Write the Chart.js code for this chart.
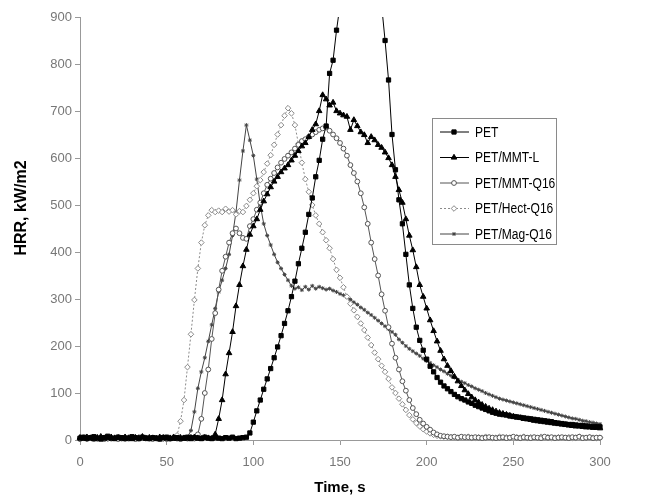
<!DOCTYPE html>
<html>
<head>
<meta charset="utf-8">
<title>HRR curves</title>
<script src="https://cdn.jsdelivr.net/npm/chart.js@4.4.1/dist/chart.umd.min.js"></script>
<style>
  html, body { margin: 0; padding: 0; background: #fff; }
  #wrap { width: 646px; height: 495px; }
</style>
</head>
<body>
<div id="wrap"><canvas id="hrrChart" width="646" height="495"></canvas></div>
<script>
// time axis (s), one reading every 2 s
var timeS = [
  0, 2, 4, 6, 8, 10, 12, 14, 16, 18,
  20, 22, 24, 26, 28, 30, 32, 34, 36, 38,
  40, 42, 44, 46, 48, 50, 52, 54, 56, 58,
  60, 62, 64, 66, 68, 70, 72, 74, 76, 78,
  80, 82, 84, 86, 88, 90, 92, 94, 96, 98,
  100, 102, 104, 106, 108, 110, 112, 114, 116, 118,
  120, 122, 124, 126, 128, 130, 132, 134, 136, 138,
  140, 142, 144, 146, 148, 150, 152, 154, 156, 158,
  160, 162, 164, 166, 168, 170, 172, 174, 176, 178,
  180, 182, 184, 186, 188, 190, 192, 194, 196, 198,
  200, 202, 204, 206, 208, 210, 212, 214, 216, 218,
  220, 222, 224, 226, 228, 230, 232, 234, 236, 238,
  240, 242, 244, 246, 248, 250, 252, 254, 256, 258,
  260, 262, 264, 266, 268, 270, 272, 274, 276, 278,
  280, 282, 284, 286, 288, 290, 292, 294, 296, 298,
  300
];

var seriesNames = ['PET', 'PET/MMT-L', 'PET/MMT-Q16', 'PET/Hect-Q16', 'PET/Mag-Q16'];

// HRR, kW/m2
var hrrPET = [
  4, 6, 3, 5, 7, 4, 2, 5, 8, 4,
  3, 6, 5, 3, 4, 7, 5, 3, 6, 4,
  3, 5, 4, 2, 5, 6, 3, 4, 5, 3,
  4, 6, 3, 5, 4, 3, 6, 4, 3, 5,
  4, 3, 5, 4, 6, 3, 4, 5, 6, 15,
  38, 62, 85, 108, 130, 152, 175, 198, 222, 248,
  275, 305, 338, 375, 408, 442, 480, 515, 560, 595,
  640, 668, 780, 808, 872, 925, 980, 1030, 1070, 1100,
  1115, 1120, 1110, 1090, 1050, 1010, 970, 925, 850, 766,
  650, 575, 511, 460, 395, 330, 280, 240, 212, 191,
  172, 157, 145, 133, 123, 115, 109, 103, 97, 92,
  88, 85, 81, 78, 74, 71, 68, 65, 62, 59,
  57, 55, 54, 53, 51, 50, 49, 48, 47, 46,
  45, 44, 43, 42, 41, 40, 39, 37, 36, 35,
  34, 33, 33, 32, 31, 31, 30, 29, 29, 28,
  28
];

var hrrMMTL = [
  5, 3, 6, 4, 2, 5, 7, 3, 4, 6,
  4, 5, 3, 6, 4, 2, 5, 4, 7, 3,
  5, 4, 3, 6, 5, 3, 4, 6, 3, 5,
  4, 3, 5, 6, 4, 3, 5, 4, 3, 12,
  45, 85, 140, 185, 230, 285, 330, 370, 405, 437,
  455, 470, 490, 508, 523, 538, 550, 560, 570, 578,
  585, 595, 605, 615, 625, 632, 645, 660, 672, 700,
  734, 725, 712, 718, 700, 695, 691, 688, 660, 681,
  668, 655, 649, 632, 645, 638, 628, 622, 612, 600,
  585, 560, 532, 505, 470, 435, 404, 368, 330, 305,
  280, 255, 232, 210, 190, 172, 158, 147, 135, 125,
  115, 106, 98, 91, 85, 80, 75, 71, 67, 64,
  61, 58, 56, 54, 52, 50, 48, 47, 45, 44,
  43, 41, 40, 39, 38, 37, 36, 35, 34, 33,
  32, 31, 30, 29, 29, 28, 27, 27, 26, 26,
  25
];

var hrrMMTQ16 = [
  2, 4, 3, 5, 2, 3, 4, 2, 5, 3,
  4, 2, 3, 5, 3, 4, 2, 3, 4, 5,
  3, 2, 4, 3, 5, 2, 3, 4, 3, 2,
  4, 3, 5, 3, 12, 45, 100, 150, 215, 270,
  320, 360, 390, 420, 440, 450, 440, 430, 428, 455,
  470, 490, 505, 525, 543, 556, 568, 580, 590, 598,
  605, 612, 620, 628, 636, 640, 645, 650, 655, 660,
  663, 665, 658, 650, 642, 632, 620, 605, 585, 568,
  550, 525, 495, 460, 420, 385, 350, 310, 275, 240,
  205, 175, 150, 125, 105, 85, 68, 55, 43, 35,
  28, 22, 16, 12, 9, 8, 7, 6, 7, 5,
  7, 6, 6, 5, 6, 5, 4, 5, 6, 5,
  4, 5, 6, 4, 5, 7, 5, 4, 6, 5,
  4, 6, 5, 4, 7, 5, 6, 4, 5, 6,
  5, 4, 6, 5, 7, 4, 5, 6, 4, 5,
  5
];

var hrrHectQ16 = [
  3, 5, 2, 4, 6, 3, 4, 5, 2, 4,
  5, 3, 4, 2, 5, 4, 3, 6, 4, 3,
  4, 5, 3, 4, 2, 5, 3, 4, 10, 40,
  85, 155, 225, 298, 365, 420, 457, 478, 489, 485,
  488, 485, 492, 486, 489, 480, 487, 485, 498, 511,
  525, 540, 553, 570, 588, 606, 628, 650, 670, 690,
  706, 695, 670, 630, 590, 555, 528, 500, 478, 460,
  442, 425, 408, 385, 362, 345, 325, 305, 290, 276,
  262, 248, 234, 218, 202, 186, 172, 158, 145, 130,
  112, 100, 88, 76, 64, 53, 44, 36, 29, 23,
  18, 14, 11, 9, 8, 7, 7, 6, 6, 5,
  6, 5, 7, 5, 4, 6, 5, 7, 5, 4,
  5, 7, 4, 6, 5, 4, 6, 5, 7, 4,
  6, 5, 4, 7, 5, 6, 4, 5, 6, 4,
  5, 6, 4, 5, 7, 5, 4, 6, 5, 4,
  5
];

var hrrMagQ16 = [
  4, 2, 5, 3, 4, 6, 3, 2, 4, 5,
  3, 4, 6, 3, 5, 2, 4, 3, 5, 4,
  2, 4, 5, 3, 4, 6, 3, 5, 4, 3,
  4, 6, 20, 60, 110, 145, 175, 210, 245, 280,
  315, 340, 365, 395, 435, 485, 553, 615, 670, 638,
  605, 555, 500, 460, 435, 415, 395, 378, 365, 352,
  340, 328, 322, 325, 319, 326, 320, 328, 322, 326,
  323, 320, 322, 318, 315, 311, 308, 304, 299, 293,
  288, 282, 277, 271, 266, 260, 254, 248, 242, 236,
  230, 224, 214, 207, 200, 194, 189, 184, 179, 173,
  168, 164, 159, 155, 150, 146, 141, 137, 133, 128,
  124, 121, 117, 114, 110, 107, 104, 100, 97, 94,
  91, 88, 86, 84, 82, 80, 78, 76, 74, 72,
  70, 68, 66, 64, 62, 60, 58, 56, 54, 52,
  50, 48, 46, 45, 43, 41, 40, 38, 37, 35,
  34
];

var xTicks = [0, 50, 100, 150, 200, 250, 300];
var yTicks = [0, 100, 200, 300, 400, 500, 600, 700, 800, 900];

function pts(vals) {
  return timeS.map(function (t, i) { return { x: t, y: vals[i] }; });
}

var FONT = '"Liberation Sans", Arial, Helvetica, sans-serif';
Chart.defaults.font.family = FONT;

// legend box inside the plot + rotated y title
var extras = {
  id: 'extras',
  afterDraw: function (chart) {
    var ctx = chart.ctx;
    var left = 432, top = 118, w = 124, h = 126;
    ctx.save();
    ctx.fillStyle = '#fff';
    ctx.fillRect(left, top, w, h);
    ctx.strokeStyle = '#8a8a8a';
    ctx.lineWidth = 1;
    ctx.strokeRect(left + 0.5, top + 0.5, w, h);
    chart.data.datasets.forEach(function (ds, i) {
      var y = top + 14 + i * 25.5;
      ctx.strokeStyle = ds.borderColor;
      ctx.lineWidth = 1;
      ctx.setLineDash(ds.borderDash || []);
      ctx.beginPath();
      ctx.moveTo(left + 8, y);
      ctx.lineTo(left + 37, y);
      ctx.stroke();
      ctx.setLineDash([]);
      ctx.fillStyle = ds.pointBackgroundColor;
      ctx.strokeStyle = ds.pointBorderColor;
      Chart.helpers.drawPoint(ctx, {
        pointStyle: ds.pointStyle, radius: ds.pointRadius,
        borderWidth: 1, rotation: 0
      }, left + 22, y);
      // legend text is a bit narrow in the original
      ctx.save();
      ctx.translate(left + 43, y + 1);
      ctx.scale(0.86, 1);
      ctx.fillStyle = '#000';
      ctx.font = '14px ' + FONT;
      ctx.textBaseline = 'middle';
      ctx.textAlign = 'left';
      ctx.fillText(ds.label, 0, 0);
      ctx.restore();
    });
    // y axis title
    ctx.translate(22, 208);
    ctx.rotate(-Math.PI / 2);
    ctx.fillStyle = '#000';
    ctx.font = 'bold 16px ' + FONT;
    ctx.textAlign = 'center';
    ctx.textBaseline = 'middle';
    ctx.fillText('HRR, kW/m2', 0, 0);
    ctx.restore();
  }
};

var styles = [
  { data: hrrPET, color: '#000', style: 'rect', r: 3, fill: '#000', dash: [] },
  { data: hrrMMTL, color: '#000', style: 'triangle', r: 3.2, fill: '#000', dash: [] },
  { data: hrrMMTQ16, color: '#555', style: 'circle', r: 2.4, fill: '#fff', dash: [] },
  { data: hrrHectQ16, color: '#8a8a8a', style: 'rectRot', r: 2.8, fill: '#fff', dash: [2, 2] },
  { data: hrrMagQ16, color: '#444', style: 'star', r: 2, fill: '#444', dash: [] }
];

var ctx = document.getElementById('hrrChart').getContext('2d');
var chart = new Chart(ctx, {
  type: 'line',
  data: {
    datasets: styles.map(function (s, i) {
      return {
        label: seriesNames[i],
        data: pts(s.data),
        borderColor: s.color,
        borderWidth: 1,
        borderDash: s.dash,
        pointStyle: s.style,
        pointRadius: s.r,
        pointBackgroundColor: s.fill,
        pointBorderColor: s.color,
        pointBorderWidth: 1,
        tension: 0,
        clip: { left: 6, top: 0, right: 6, bottom: 6 }
      };
    })
  },
  options: {
    responsive: false,
    animation: false,
    events: [],
    layout: { padding: { top: 17, right: 46, left: 0, bottom: 0 } },
    plugins: {
      legend: { display: false },
      tooltip: { enabled: false }
    },
    scales: {
      x: {
        type: 'linear',
        min: 0,
        max: 300,
        afterBuildTicks: function (s) { s.ticks = xTicks.map(function (v) { return { value: v }; }); },
        afterFit: function (s) { s.height = 55; },
        grid: { drawOnChartArea: false, drawTicks: true, tickLength: 5, color: '#999' },
        border: { color: '#999', width: 1 },
        ticks: { color: '#777', font: { size: 13 }, padding: 10, maxRotation: 0 },
        title: { display: true, text: 'Time, s', color: '#000', font: { size: 15, weight: 'bold' }, padding: { top: 0, bottom: -2 } }
      },
      y: {
        min: 0,
        max: 900,
        afterBuildTicks: function (s) { s.ticks = yTicks.map(function (v) { return { value: v }; }); },
        afterFit: function (s) { s.width = 80; },
        grid: { drawOnChartArea: false, drawTicks: true, tickLength: 5, color: '#999' },
        border: { color: '#999', width: 1 },
        ticks: { color: '#777', font: { size: 13 }, padding: 3 }
      }
    }
  },
  plugins: [extras]
});
</script>
</body>
</html>
